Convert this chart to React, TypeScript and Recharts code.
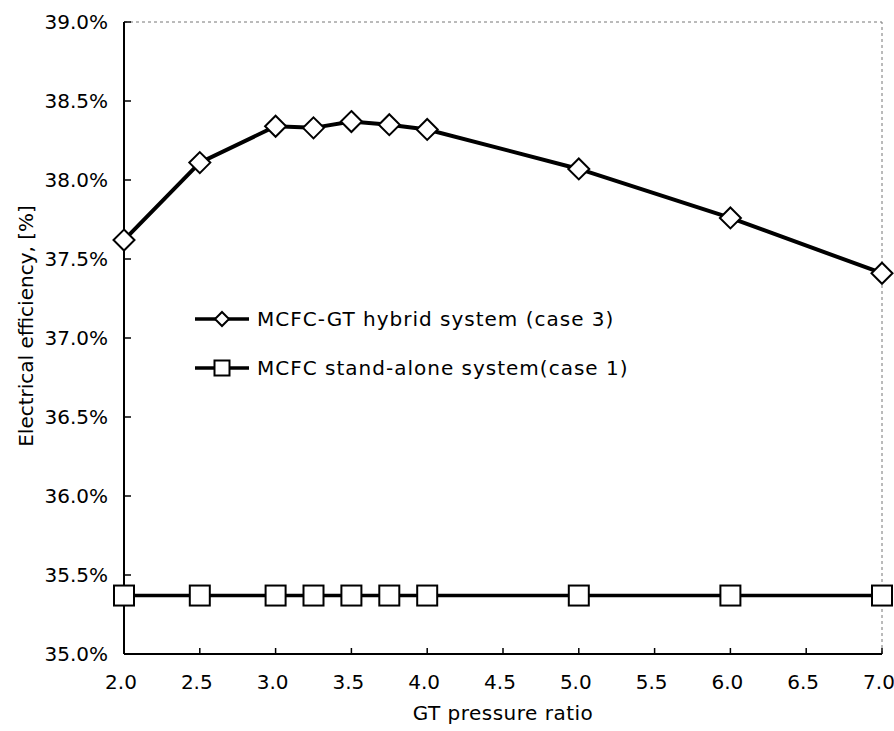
import React from "react";
import { LineChart, Line, XAxis, YAxis, ReferenceLine, Legend } from "recharts";

const FONT = "'DejaVu Sans', Verdana, sans-serif";

// GT pressure ratio (x) and electrical efficiency in % (y)
const pressureRatios = [2.0, 2.5, 3.0, 3.25, 3.5, 3.75, 4.0, 5.0, 6.0, 7.0];
const hybridEff = [37.62, 38.11, 38.34, 38.33, 38.37, 38.35, 38.32, 38.07, 37.76, 37.41];
const standaloneEff = [35.37, 35.37, 35.37, 35.37, 35.37, 35.37, 35.37, 35.37, 35.37, 35.37];

const xTicks = [2.0, 2.5, 3.0, 3.5, 4.0, 4.5, 5.0, 5.5, 6.0, 6.5, 7.0];
const yTicks = [35.0, 35.5, 36.0, 36.5, 37.0, 37.5, 38.0, 38.5, 39.0];

const hybridName = "MCFC-GT hybrid system (case 3)";
const standaloneName = "MCFC stand-alone system(case 1)";
const xTitle = "GT pressure ratio";
const yTitle = "Electrical efficiency, [%]";

const data = pressureRatios.map((p, i) => ({
  p,
  hybrid: hybridEff[i],
  standalone: standaloneEff[i],
}));

const renderDiamond = (p: any) => {
  const { cx, cy, index } = p;
  if (cx == null || cy == null) return <g key={`d-${index}`} />;
  const r = 10.5;
  return (
    <path
      key={`d-${index}`}
      d={`M${cx} ${cy - r}L${cx + r} ${cy}L${cx} ${cy + r}L${cx - r} ${cy}Z`}
      fill="#fff"
      stroke="#000"
      strokeWidth={2}
    />
  );
};

const renderSquare = (p: any) => {
  const { cx, cy, index } = p;
  if (cx == null || cy == null) return <g key={`s-${index}`} />;
  const h = 10;
  return (
    <rect
      key={`s-${index}`}
      x={cx - h}
      y={cy - h}
      width={h * 2}
      height={h * 2}
      fill="#fff"
      stroke="#000"
      strokeWidth={2}
    />
  );
};

// ticks point inward, labels sit outside
const XTick = (p: any) => {
  const { x, y, payload } = p;
  return (
    <g>
      <line x1={x} x2={x} y1={y} y2={y - 6} stroke="#000" strokeWidth={1.5} />
      <text x={x - 3} y={y + 35} textAnchor="middle" fontFamily={FONT} fontSize={20} fill="#000">
        {Number(payload.value).toFixed(1)}
      </text>
    </g>
  );
};

const YTick = (p: any) => {
  const { x, y, payload } = p;
  return (
    <g>
      <line x1={x} x2={x + 7} y1={y} y2={y} stroke="#000" strokeWidth={1.5} />
      <text x={x - 16} y={y + 7} textAnchor="end" fontFamily={FONT} fontSize={20} fill="#000">
        {Number(payload.value).toFixed(1)}%
      </text>
    </g>
  );
};

const YTitle = (p: any) => {
  const vb = p.viewBox || { x: 0, y: 0, width: 0, height: 0 };
  const cx = vb.x + 26;
  const cy = vb.y + vb.height / 2 - 12;
  return (
    <text
      x={cx}
      y={cy}
      transform={`rotate(-90, ${cx}, ${cy})`}
      textAnchor="middle"
      dominantBaseline="central"
      fontFamily={FONT}
      fontSize={20}
      fill="#000"
    >
      {yTitle}
    </text>
  );
};

const XTitle = (p: any) => {
  const vb = p.viewBox || { x: 0, y: 0, width: 0, height: 0 };
  return (
    <text
      x={vb.x + vb.width / 2}
      y={vb.y + 59}
      textAnchor="middle"
      dominantBaseline="central"
      fontFamily={FONT}
      fontSize={20}
      letterSpacing={0.5}
      fill="#000"
    >
      {xTitle}
    </text>
  );
};

const legendItems = [
  { name: hybridName, marker: "diamond" },
  { name: standaloneName, marker: "square" },
];

const LegendBox = () => (
  <div style={{ fontFamily: FONT, fontSize: 20, color: "#000", whiteSpace: "nowrap", letterSpacing: 1 }}>
    {legendItems.map((it, i) => (
      <div
        key={it.name}
        style={{ display: "flex", alignItems: "center", height: 24, marginBottom: i === 0 ? 25 : 0 }}
      >
        <svg width={54} height={24}>
          <line x1={0} x2={54} y1={12} y2={12} stroke="#000" strokeWidth={3.5} />
          {it.marker === "diamond" ? (
            <path d="M27 5L34 12L27 19L20 12Z" fill="#fff" stroke="#000" strokeWidth={2} />
          ) : (
            <rect x={19.5} y={4.5} width={15} height={15} fill="#fff" stroke="#000" strokeWidth={2} />
          )}
        </svg>
        <span style={{ marginLeft: 8 }}>{it.name}</span>
      </div>
    ))}
  </div>
);

export default function App() {
  return (
    <div style={{ position: "absolute", left: 0, top: 0, width: 894, height: 731, background: "#fff" }}>
      <LineChart width={894} height={731} data={data} margin={{ top: 22, right: 12, left: 0, bottom: 0 }}>
        <XAxis
          dataKey="p"
          type="number"
          domain={[2, 7]}
          ticks={xTicks}
          interval={0}
          height={77}
          tickSize={0}
          tickMargin={0}
          tickLine={false}
          axisLine={{ stroke: "#000", strokeWidth: 2 }}
          tick={<XTick />}
          label={<XTitle />}
        />
        <YAxis
          type="number"
          domain={[35, 39]}
          ticks={yTicks}
          interval={0}
          width={124}
          tickSize={0}
          tickMargin={0}
          tickLine={false}
          axisLine={{ stroke: "#000", strokeWidth: 2 }}
          tick={<YTick />}
          label={<YTitle />}
        />
        <ReferenceLine y={39} stroke="#777" strokeWidth={1} strokeDasharray="3 3" />
        <ReferenceLine x={7} stroke="#777" strokeWidth={1} strokeDasharray="3 3" />
        <Legend
          layout="vertical"
          align="center"
          verticalAlign="middle"
          content={() => <LegendBox />}
          wrapperStyle={{ left: 195, top: 307, right: "auto", bottom: "auto", width: "auto", height: "auto" }}
        />
        <Line
          dataKey="standalone"
          name={standaloneName}
          type="linear"
          stroke="#000"
          strokeWidth={3.5}
          dot={renderSquare}
          activeDot={false}
          isAnimationActive={false}
        />
        <Line
          dataKey="hybrid"
          name={hybridName}
          type="linear"
          stroke="#000"
          strokeWidth={4}
          dot={renderDiamond}
          activeDot={false}
          isAnimationActive={false}
        />
      </LineChart>
    </div>
  );
}
